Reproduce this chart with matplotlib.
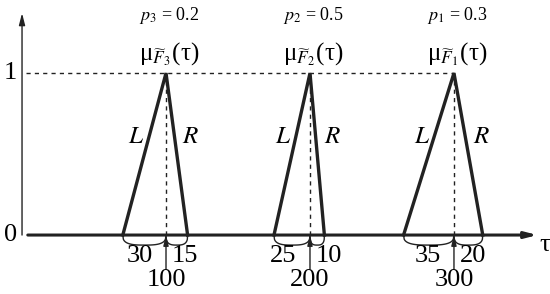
import numpy as np
import matplotlib.pyplot as plt

# triangular fuzzy numbers: peak, left spread, right spread, probability
peaks = [100, 200, 300]
left_spreads = [30, 25, 35]
right_spreads = [15, 10, 20]
probs = [0.2, 0.5, 0.3]
indices = [3, 2, 1]

plt.rcParams['font.family'] = ['Liberation Serif', 'DejaVu Serif']
plt.rcParams['mathtext.fontset'] = 'stix'

fig = plt.figure(figsize=(5.5, 2.94), dpi=100)
ax = fig.add_axes([0, 0, 1, 1])
ax.set_xlim(-15.3, 366.7)
ax.set_ylim(-0.364, 1.451)
ax.axis('off')

# axes with arrows
ax.annotate('', xy=(0, 1.37), xytext=(0, 0),
            arrowprops=dict(arrowstyle='-|>,head_length=0.7,head_width=0.18',
                            lw=1.0, color='#222222', shrinkA=0, shrinkB=0))
ax.annotate('', xy=(358, 0), xytext=(4, 0),
            arrowprops=dict(arrowstyle='-|>,head_length=0.7,head_width=0.18',
                            lw=2.2, color='#222222', shrinkA=0, shrinkB=0))
ax.text(363, -0.06, 'τ', fontsize=19, ha='center', va='center')
ax.text(-8, 0, '0', fontsize=19, ha='center', va='center')
ax.text(-8, 1.0, '1', fontsize=19, ha='center', va='center')

# dashed level line at 1
ax.plot([3, peaks[-1]], [1, 1], ls=(0, (3, 3)), color='#222222', lw=1.0)


def brace(a, b, depth=0.062, n=3.0):
    t = np.linspace(-1, 1, 80)
    xs = (a + b) / 2 + (b - a) / 2 * t
    ys = -depth * (1 - np.abs(t) ** n) ** (1 / n)
    ax.plot(xs, ys, color='#222222', lw=1.0)


for c, l, r, p, k in zip(peaks, left_spreads, right_spreads, probs, indices):
    ax.plot([c - l, c, c + r], [0, 1, 0], color='#222222', lw=2.4,
            solid_joinstyle='miter')
    ax.plot([c, c], [0, 1], ls=(0, (3, 3)), color='#222222', lw=1.0)
    brace(c - l, c)
    brace(c, c + r)
    ax.annotate('', xy=(c, 0), xytext=(c, -0.21),
                arrowprops=dict(arrowstyle='-|>,head_length=0.6,head_width=0.15',
                                lw=1.0, color='#222222', shrinkA=0, shrinkB=0))
    ax.text(c - 18.5, -0.13, str(l), fontsize=19, ha='center', va='center')
    ax.text(c + 13, -0.13, str(r), fontsize=19, ha='center', va='center')
    ax.text(c, -0.275, str(c), fontsize=19, ha='center', va='center')
    ax.text(c - 0.35 * l - 10, 0.605, '$L$', fontsize=18, ha='center', va='center')
    ax.text(c + 0.35 * r + 12, 0.605, '$R$', fontsize=18, ha='center', va='center')
    ax.text(c + 2, 1.08, 'μ' + r'$_{\widetilde{F}_%d}$' % k + '(τ)', fontsize=18,
            ha='center', va='baseline')
    ax.text(c + 2, 1.33, r'$p_%d$ = %.1f' % (k, p), fontsize=13,
            ha='center', va='baseline')

fig.savefig('out.png', dpi=100)
